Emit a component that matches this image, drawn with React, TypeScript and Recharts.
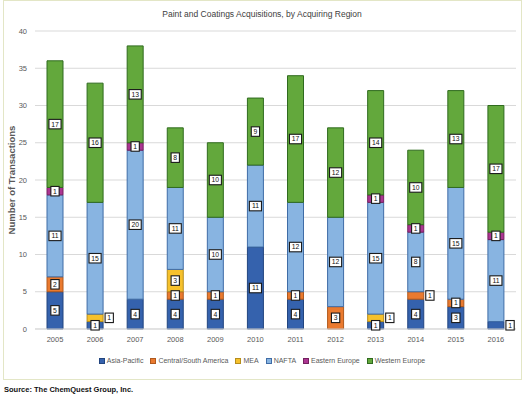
import React from 'react'
import { BarChart, Bar, XAxis, YAxis, CartesianGrid, Legend, LabelList } from 'recharts'

const years = ['2005', '2006', '2007', '2008', '2009', '2010', '2011', '2012', '2013', '2014', '2015', '2016']
const asiaPacific = [5, 1, 4, 4, 4, 11, 4, 0, 1, 4, 3, 1]
const centralSouthAmerica = [2, 0, 0, 1, 1, 0, 1, 3, 0, 1, 1, 0]
const mea = [0, 1, 0, 3, 0, 0, 0, 0, 1, 0, 0, 0]
const nafta = [11, 15, 20, 11, 10, 11, 12, 12, 15, 8, 15, 11]
const easternEurope = [1, 0, 1, 0, 0, 0, 0, 0, 1, 1, 0, 1]
const westernEurope = [17, 16, 13, 8, 10, 9, 17, 12, 14, 10, 13, 17]
const yTicks = [0, 5, 10, 15, 20, 25, 30, 35, 40]

// labels Excel moved to the right of the bar
const outsideLabels = ['2006:mea', '2013:mea', '2014:csa', '2016:asia']

const series = [
  { key: 'asia', name: 'Asia-Pacific', values: asiaPacific, fill: '#3562ad', stroke: '#22457f' },
  { key: 'csa', name: 'Central/South America', values: centralSouthAmerica, fill: '#ea7a2f', stroke: '#b0591d' },
  { key: 'mea', name: 'MEA', values: mea, fill: '#f6c12c', stroke: '#b68d1c' },
  { key: 'nafta', name: 'NAFTA', values: nafta, fill: '#88b4e1', stroke: '#3f6ca6' },
  { key: 'ee', name: 'Eastern Europe', values: easternEurope, fill: '#ac3592', stroke: '#74215f' },
  { key: 'we', name: 'Western Europe', values: westernEurope, fill: '#63a83c', stroke: '#2f6b1e' },
]

const data = years.map((year, i) => {
  const row: any = { year }
  for (const s of series) row[s.key] = s.values[i]
  return row
})

const font = '"Liberation Sans", Arial, sans-serif'

function makeLabel(key: string) {
  return (props: any) => {
    const { x, y, width, height, value } = props
    const [year, v] = String(value).split('|')
    if (!v || v === '0') return null
    const w = v.length * 3.8 + 4.5
    const h = 9.5
    const outside = outsideLabels.includes(`${year}:${key}`)
    const cx = outside ? x + width + 2 + w / 2 : x + width / 2
    const cy = y + height / 2
    return (
      <g>
        <rect x={cx - w / 2} y={cy - h / 2} width={w} height={h} fill="#fff" stroke="#1a1a1a" strokeWidth={1.1} />
        <text x={cx} y={cy + 2.4} textAnchor="middle" fontSize={6.8} fontFamily={font} fill="#111">{v}</text>
      </g>
    )
  }
}

function LegendContent() {
  return (
    <div style={{ display: 'flex', justifyContent: 'center', gap: 7, fontFamily: font, fontSize: 7, color: '#595959' }}>
      {series.map(s => (
        <div key={s.key} style={{ display: 'flex', alignItems: 'center', gap: 2 }}>
          <span style={{ width: 4, height: 4, background: s.fill, border: `1px solid ${s.stroke}`, display: 'inline-block' }} />
          <span>{s.name}</span>
        </div>
      ))}
    </div>
  )
}

export default function App() {
  return (
    <div style={{ position: 'absolute', left: 0, top: 0, width: 524, height: 397, background: '#fff', fontFamily: font }}>
      <div style={{ position: 'absolute', left: 3, top: 0, width: 517, height: 378, border: '1px solid #e3e6c6' }} />
      <div style={{ position: 'absolute', left: 0, top: 9, width: 524, textAlign: 'center', fontSize: 8.5, color: '#404040' }}>
        Paint and Coatings Acquisitions, by Acquiring Region
      </div>
      <BarChart
        width={524}
        height={380}
        data={data}
        margin={{ top: 31, right: 8, bottom: 31, left: 5 }}
        barSize={16}
        style={{ position: 'absolute', left: 0, top: 0 }}
      >
        <CartesianGrid vertical={false} stroke="#d9d9d9" />
        <XAxis
          dataKey="year"
          height={20}
          axisLine={{ stroke: '#d9d9d9' }}
          tickLine={false}
          tick={{ fontSize: 7.5, fill: '#595959', fontFamily: font }}
          interval={0}
        />
        <YAxis
          width={30}
          domain={[0, 40]}
          ticks={yTicks}
          axisLine={false}
          tickLine={false}
          tick={{ fontSize: 7.5, fill: '#595959', fontFamily: font }}
          label={{ value: 'Number of Transactions', angle: -90, position: 'insideLeft', dx: 2, style: { fontSize: 9.5, fill: '#595959', fontFamily: font, fontWeight: 600, textAnchor: 'middle' } }}
        />
        <Legend verticalAlign="middle" align="center" wrapperStyle={{ top: 357, left: 0, width: 524 }} content={<LegendContent />} />
        {series.map(s => (
          <Bar key={s.key} dataKey={s.key} name={s.name} stackId="a" fill={s.fill} stroke={s.stroke} strokeWidth={1} isAnimationActive={false}>
            <LabelList dataKey={(row: any) => `${row.year}|${row[s.key]}`} content={makeLabel(s.key)} />
          </Bar>
        ))}
      </BarChart>
      <div style={{ position: 'absolute', left: 4, top: 385, fontSize: 7.5, fontWeight: 'bold', color: '#111' }}>
        Source: The ChemQuest Group, Inc.
      </div>
    </div>
  )
}
